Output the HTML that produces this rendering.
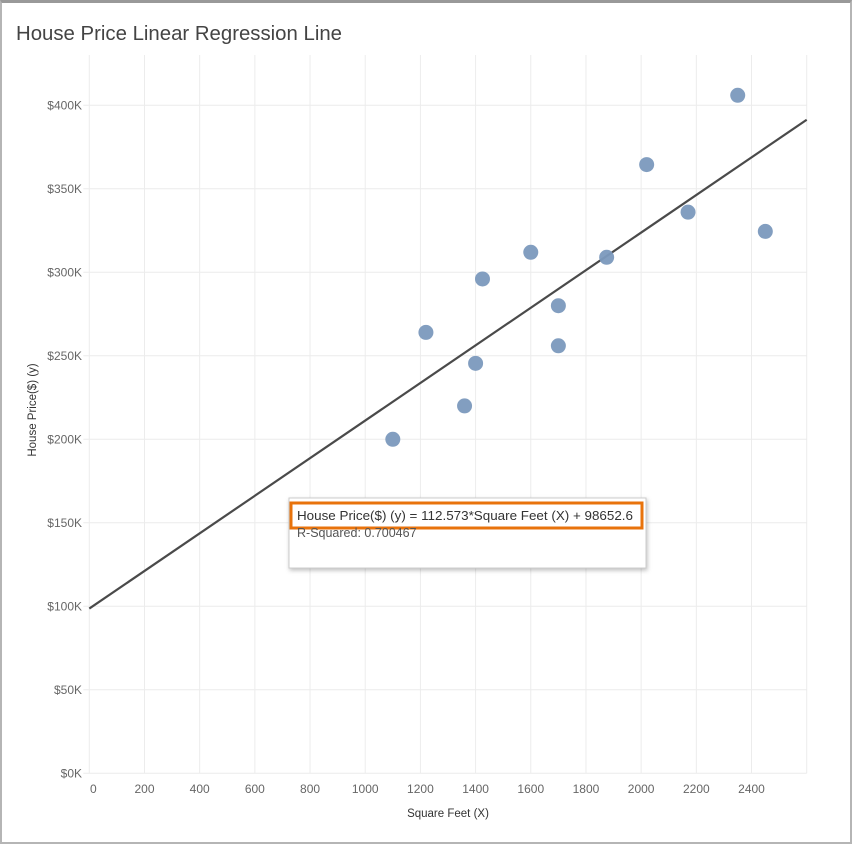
<!DOCTYPE html>
<html><head><meta charset="utf-8">
<style>
html,body{margin:0;padding:0;background:#fff;}
body{width:852px;height:843px;position:relative;overflow:hidden;font-family:"Liberation Sans",sans-serif;}
#frame{position:absolute;left:0;top:0;width:848px;height:839px;border:2px solid #b5b5b5;border-top:3px solid #999;box-sizing:content-box;}
</style></head>
<body>
<div id="frame"></div>
<svg id="chart" width="852" height="843" style="position:absolute;left:0;top:0">
<text x="16" y="40" font-size="20" fill="#444" textLength="326" lengthAdjust="spacingAndGlyphs" font-family="Liberation Sans, sans-serif">House Price Linear Regression Line</text>
<g id="grid"></g><g id="line"></g><g id="pts"></g><g id="ticks"></g>
<text x="448" y="817" font-size="11.5" fill="#333" text-anchor="middle">Square Feet (X)</text>
<text transform="translate(36,410) rotate(-90)" font-size="11.5" fill="#333" text-anchor="middle">House Price($) (y)</text>
<g>
<rect x="289" y="498" width="357" height="70" fill="#fff" stroke="#ccc" style="filter:drop-shadow(1px 2px 2px rgba(0,0,0,0.25))"/>
<rect x="291" y="503" width="351" height="25" fill="none" stroke="#e8730c" stroke-width="3"/>
<text x="297" y="520" font-size="12.5" fill="#333" textLength="336" lengthAdjust="spacingAndGlyphs">House Price($) (y) = 112.573*Square Feet (X) + 98652.6</text>
<text x="297" y="537" font-size="12.5" fill="#555">R-Squared: 0.700467</text>
</g>
</svg>
<script>
const sqft=[1100,1220,1360,1400,1425,1600,1700,1700,1875,2020,2170,2350,2450];
const price=[200000,264000,220000,245500,296000,312000,280000,256000,309000,364500,336000,406000,324500];
const xTicks=[0,200,400,600,800,1000,1200,1400,1600,1800,2000,2200,2400];
const yTicks=[0,50000,100000,150000,200000,250000,300000,350000,400000];
const yTickLabels=["$0K","$50K","$100K","$150K","$200K","$250K","$300K","$350K","$400K"];
const slope=[112.573];
const intercept=[98652.6];
const xMax=2600, yMax=430000;
const L=89.3,R=806.7,B=773.3;
const sx=v=>L+v*(R-L)/xMax;
const sy=v=>B-v*(668/400000);
const NS="http://www.w3.org/2000/svg";
function mk(t,a,p){const e=document.createElementNS(NS,t);for(const k in a)e.setAttribute(k,a[k]);p.appendChild(e);return e;}
const grid=document.getElementById('grid'),ticks=document.getElementById('ticks');
xTicks.forEach((v,i)=>{
 const g=mk('line',{x1:sx(v),x2:sx(v),y1:55,y2:B,stroke:'#ececec'},grid);
 
 
 const t=mk('text',{x:sx(v)+(v===0?4:0),y:793,'font-size':12,fill:'#666','text-anchor':'middle'},ticks);
 t.textContent=String(v);
 
 
});
mk('line',{x1:R,x2:R,y1:55,y2:B,stroke:'#ececec'},grid);
yTicks.forEach((v,i)=>{
 const g=mk('line',{x1:L-6,x2:R,y1:sy(v),y2:sy(v),stroke:'#ececec'},grid);
 
 
 const t=mk('text',{x:82,y:sy(v)+4,'font-size':12,fill:'#666','text-anchor':'end'},ticks);
 t.textContent=yTickLabels[i];
 
 
});
const ln=mk('line',{x1:sx(0),y1:sy(intercept[0]),x2:sx(xMax),y2:sy(intercept[0]+slope[0]*xMax),stroke:'#4a4a4a','stroke-width':2.2},document.getElementById('line'));


const pts=document.getElementById('pts');
sqft.forEach((v,i)=>{
 const c=mk('circle',{cx:sx(v),cy:sy(price[i]),r:7.5,fill:'#7b99bd',opacity:0.95},pts);
 
 
});
</script>
</body></html>
